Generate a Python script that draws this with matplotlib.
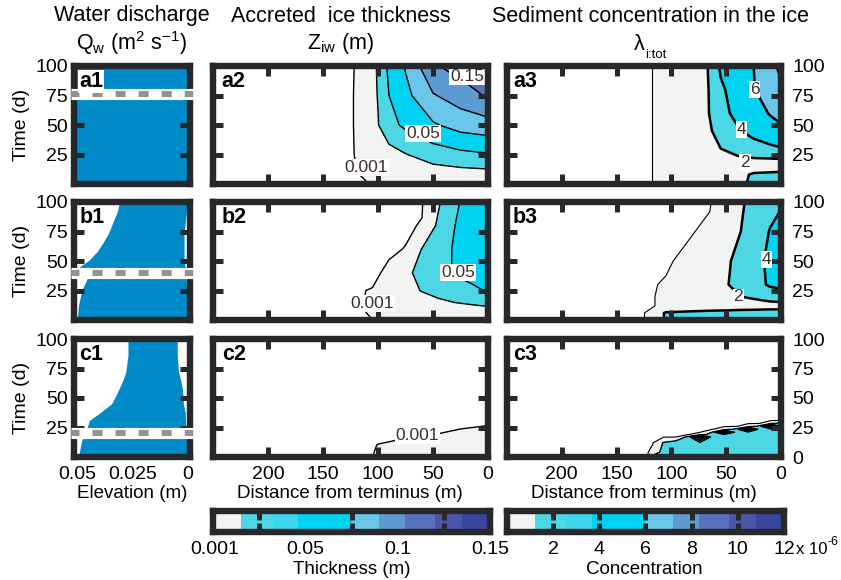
import numpy as np
import matplotlib
matplotlib.use("Agg")
import matplotlib.pyplot as plt
from matplotlib.colors import ListedColormap

# ---------------- data ----------------
# Column 1: extent of water discharge (elevation, m) through time (d)
T_A1 = [0, 100]
LEFT_A1 = [0.05, 0.05]
RIGHT_A1 = [0.0, 0.0]

T_B1 = [0, 12, 25, 33, 38, 42, 45, 51, 58, 65, 73, 82, 91, 100]
LEFT_B1 = [0.05, 0.0495, 0.048, 0.046, 0.045, 0.0495, 0.049, 0.0445, 0.041, 0.0385, 0.036, 0.034, 0.032, 0.0307]
RIGHT_B1 = [0.0, 0.0, 0.0, 0.0005, 0.001, 0.001, 0.001, 0.0015, 0.0015, 0.0015, 0.0015, 0.001, 0.0005, 0.0]

T_C1 = [0, 14, 18, 22, 31, 37, 45, 52, 58, 65, 72, 86, 100]
LEFT_C1 = [0.0495, 0.048, 0.047, 0.046, 0.0445, 0.04, 0.0345, 0.0325, 0.031, 0.0293, 0.028, 0.027, 0.027]
RIGHT_C1 = [0.0, 0.0, 0.0, 0.0005, 0.0009, 0.0009, 0.0018, 0.002, 0.0023, 0.003, 0.004, 0.0046, 0.0046]

BAND_TIMES = [76, 40, 20]          # dashed marker in a1, b1, c1

# Column 2: accreted ice thickness Z_iw (m), grid of distance (m) x time (d)
D_A2 = [0, 25, 50, 75, 90, 100, 110, 120, 130, 250]
T_A2 = [0, 10, 25, 50, 75, 100]
Z_A2 = [
    [0.004, 0.004, 0.003, 0.002, 0.0015, 0.0012, 0.0008, 0.0005, 0.0, 0.0],
    [0.020, 0.018, 0.015, 0.010, 0.006, 0.004, 0.002, 0.0009, 0.0, 0.0],
    [0.048, 0.044, 0.037, 0.024, 0.016, 0.012, 0.006, 0.0012, 0.0, 0.0],
    [0.090, 0.085, 0.072, 0.055, 0.042, 0.024, 0.012, 0.0013, 0.0, 0.0],
    [0.128, 0.112, 0.098, 0.068, 0.050, 0.026, 0.013, 0.0013, 0.0, 0.0],
    [0.165, 0.135, 0.122, 0.077, 0.056, 0.027, 0.014, 0.0012, 0.0, 0.0],
]

D_B2 = [0, 15, 30, 45, 60, 75, 90, 105, 120, 250]
T_B2 = [0, 10, 25, 40, 60, 80, 100]
Z_B2 = [
    [0.004, 0.004, 0.004, 0.003, 0.003, 0.002, 0.0015, 0.001, 0.0005, 0.0],
    [0.022, 0.020, 0.018, 0.015, 0.012, 0.008, 0.004, 0.0016, 0.0006, 0.0],
    [0.052, 0.045, 0.040, 0.033, 0.026, 0.018, 0.008, 0.0012, 0.0007, 0.0],
    [0.062, 0.058, 0.052, 0.042, 0.032, 0.020, 0.002, 0.0, 0.0, 0.0],
    [0.066, 0.062, 0.053, 0.038, 0.026, 0.0012, 0.0002, 0.0, 0.0, 0.0],
    [0.068, 0.062, 0.050, 0.030, 0.0015, 0.0, 0.0, 0.0, 0.0, 0.0],
    [0.070, 0.060, 0.046, 0.022, 0.0, 0.0, 0.0, 0.0, 0.0, 0.0],
]

D_C2 = [0, 25, 50, 75, 100, 110, 250]
T_C2 = [0, 10, 20, 30, 100]
Z_C2 = [
    [0.004, 0.004, 0.003, 0.002, 0.0015, 0.0005, 0.0],
    [0.003, 0.003, 0.0025, 0.002, 0.0011, 0.0003, 0.0],
    [0.002, 0.0016, 0.0008, 0.0003, 0.0, 0.0, 0.0],
    [0.0005, 0.0, 0.0, 0.0, 0.0, 0.0, 0.0],
    [0.0, 0.0, 0.0, 0.0, 0.0, 0.0, 0.0],
]

# Column 3: sediment concentration (x 1e-6), grid of distance (m) x time (d)
D_A3 = [0, 10, 25, 40, 55, 70, 90, 110, 125, 250]
T_A3 = [0, 8, 15, 22, 30, 45, 60, 80, 100]
C_A3 = [
    [2.6, 2.5, 2.3, 1.6, 0.8, 0.4, 0.3, 0.1, 0.0, 0.0],
    [2.4, 2.3, 2.2, 1.5, 0.8, 0.4, 0.3, 0.1, 0.0, 0.0],
    [1.2, 1.2, 1.1, 1.0, 0.8, 0.5, 0.3, 0.1, 0.0, 0.0],
    [2.1, 2.05, 2.0, 1.8, 1.5, 0.8, 0.4, 0.1, 0.0, 0.0],
    [3.9, 3.6, 3.1, 2.6, 2.0, 1.0, 0.5, 0.1, 0.0, 0.0],
    [5.6, 5.3, 4.7, 3.8, 2.8, 1.3, 0.5, 0.1, 0.0, 0.0],
    [6.6, 6.1, 5.3, 4.4, 3.5, 1.4, 0.5, 0.1, 0.0, 0.0],
    [7.6, 7.0, 5.9, 4.8, 3.7, 1.4, 0.5, 0.1, 0.0, 0.0],
    [8.5, 7.3, 6.0, 5.0, 4.3, 1.42, 0.5, 0.1, 0.0, 0.0],
]

D_B3 = [0, 10, 20, 35, 50, 65, 85, 105, 125, 250]
T_B3 = [0, 6, 12, 20, 30, 50, 75, 100]
C_B3 = [
    [2.6, 2.6, 2.6, 2.6, 2.5, 2.5, 2.4, 2.2, 0.0, 0.0],
    [2.6, 2.6, 2.6, 2.6, 2.5, 2.5, 2.4, 2.2, 0.0, 0.0],
    [1.4, 1.4, 1.3, 1.2, 1.1, 0.9, 0.5, 0.1, 0.0, 0.0],
    [2.9, 2.7, 2.4, 2.05, 1.6, 1.1, 0.5, 0.1, 0.0, 0.0],
    [4.6, 4.3, 3.5, 2.6, 1.9, 1.2, 0.6, 0.08, 0.0, 0.0],
    [5.0, 4.5, 3.6, 2.5, 1.8, 1.2, 0.15, 0.0, 0.0, 0.0],
    [4.6, 4.1, 3.2, 2.1, 1.2, 0.15, 0.0, 0.0, 0.0, 0.0],
    [3.8, 3.3, 2.7, 1.9, 0.6, 0.0, 0.0, 0.0, 0.0, 0.0],
]

D_C3 = [0, 9, 20, 30, 41, 52, 63, 74, 85, 96, 107, 117, 122, 250]
T_C3 = [0, 4, 12, 17, 19, 21, 23.5, 26, 28.5, 31, 100]
C_C3 = [
    [3, 3, 3, 3, 3, 3, 3, 3, 3, 3, 3, 3, 0, 0],
    [3, 3, 3, 3, 3, 3, 3, 3, 3, 3, 3, 0.3, 0, 0],
    [3, 3, 3, 3, 3, 3, 3, 3.5, 3, 3, 2.2, 0, 0, 0],
    [3, 3, 3, 3, 3, 3.5, 3, 11, 2.5, 0, 0, 0, 0, 0],
    [3, 3, 3, 3.5, 3, 3.5, 3, 1, 0, 0, 0, 0, 0, 0],
    [3, 3, 3, 3.5, 3, 11, 2, 0, 0, 0, 0, 0, 0, 0],
    [3, 3.5, 3, 11, 2.5, 0.5, 0, 0, 0, 0, 0, 0, 0, 0],
    [3, 11, 2.5, 0.5, 0, 0, 0, 0, 0, 0, 0, 0, 0, 0],
    [2.5, 1.5, 0, 0, 0, 0, 0, 0, 0, 0, 0, 0, 0, 0],
    [0, 0, 0, 0, 0, 0, 0, 0, 0, 0, 0, 0, 0, 0],
    [0, 0, 0, 0, 0, 0, 0, 0, 0, 0, 0, 0, 0, 0],
]

# contour levels / colour scales
THICK_LEVELS = [0.001, 0.025, 0.05, 0.075, 0.1, 0.125, 0.15, 1.0]
CONC_LEVELS = [0.05, 2, 4, 6, 8, 10, 12, 100]
CONC_THIN = [0.05]
CONC_THICK = [2, 4, 6, 8, 10]
THICK_BOUNDS = [0, 0.015, 0.0325, 0.046, 0.075, 0.09, 0.104, 0.12, 0.135, 0.15]
CONC_BOUNDS = [0, 1.2, 2.6, 3.7, 6.0, 7.2, 8.3, 9.6, 10.8, 12]
THICK_CB_TICKS = [0.001, 0.05, 0.1, 0.15]
THICK_CB_LABELS = ["0.001", "0.05", "0.1", "0.15"]
THICK_CB_MARKS = [0.025, 0.05, 0.075, 0.1, 0.125]
CONC_CB_TICKS = [2, 4, 6, 8, 10, 12]
DIST_TICKS = [200, 150, 100, 50, 0]
ELEV_TICKS = [0.05, 0.025, 0]
ELEV_LABELS = ["0.05", "0.025", "0"]

LBL_A2 = [("0.001", 111, 14), ("0.05", 59, 43), ("0.15", 19, 91)]
LBL_B2 = [("0.001", 105, 14), ("0.05", 27, 40)]
LBL_C2 = [("0.001", 64, 18.5)]
LBL_A3 = [("6", 24, 80), ("4", 36, 46), ("2", 33, 18)]
LBL_B3 = [("4", 13, 51), ("2", 39, 19.5)]
LBL_C3 = []

# ---------------- style ----------------
PALETTE = ["#f2f3f3", "#4dd7e5", "#3dd5ea", "#00d3f2", "#6ac7ea",
           "#5e9bd3", "#5a70bd", "#4b56ab", "#3846a0"]
THICK_FILL = [PALETTE[0], PALETTE[1], PALETTE[3], PALETTE[4], PALETTE[5], PALETTE[6], PALETTE[8]]
CONC_FILL = [PALETTE[0], PALETTE[1], PALETTE[3], PALETTE[4], PALETTE[5], PALETTE[7], PALETTE[8]]
BLUE = "#008bc8"
FRAME = "#26282c"
LBLCOL = "#3a2e2e"

plt.rcParams["font.family"] = ["Liberation Sans", "DejaVu Sans"]
plt.rcParams["mathtext.default"] = "regular"
plt.rcParams["lines.scale_dashes"] = False

W, H = 841, 580
fig = plt.figure(figsize=(W / 100, H / 100), dpi=100)


def px_axes(x0, x1, y0, y1):
    return fig.add_axes([x0 / W, 1 - y1 / H, (x1 - x0) / W, (y1 - y0) / H])


def frame(ax):
    ax.set_axisbelow(False)
    for s in ax.spines.values():
        s.set_linewidth(4.6)
        s.set_color(FRAME)
        s.set_zorder(3.5)
    ax.tick_params(which="both", direction="in", length=7.5, width=3.6,
                   color=FRAME, top=True, right=True, labelsize=14)


COLS = [(74, 190), (213, 488), (507, 781)]
ROWS = [(66, 184), (202, 320), (339, 457)]
ROWNAMES = ["a", "b", "c"]

fills = [(T_A1, LEFT_A1, RIGHT_A1), (T_B1, LEFT_B1, RIGHT_B1), (T_C1, LEFT_C1, RIGHT_C1)]
thick = [(D_A2, T_A2, Z_A2, LBL_A2), (D_B2, T_B2, Z_B2, LBL_B2), (D_C2, T_C2, Z_C2, LBL_C2)]
conc = [(D_A3, T_A3, C_A3, LBL_A3), (D_B3, T_B3, C_B3, LBL_B3), (D_C3, T_C3, C_C3, LBL_C3)]


def panel_letter(ax, s, xoff):
    ax.text(xoff, 0.955, s, transform=ax.transAxes, ha="left", va="top",
            fontsize=15.5, fontweight="bold", zorder=7,
            bbox=dict(facecolor="white", edgecolor="none", pad=0.8))


def contour_labels(ax, labels):
    for s, d, t in labels:
        ax.text(d, t, s, ha="center", va="center", fontsize=12.5, color=LBLCOL,
                zorder=3, bbox=dict(facecolor="white", edgecolor="none", pad=0.6))


for r in range(3):
    y0, y1 = ROWS[r]
    # ---- column 1 ----
    ax = px_axes(COLS[0][0], COLS[0][1], y0, y1)
    t, lft, rgt = fills[r]
    ax.fill_betweenx(t, lft, rgt, color=BLUE, lw=0, zorder=1)
    ax.set_xlim(0.0515, -0.0012)
    ax.set_ylim(0, 100)
    frame(ax)
    ax.set_yticks([25, 50, 75, 100])
    ax.tick_params(axis="y", pad=4.5)
    ax.set_xticks(ELEV_TICKS)
    ax.tick_params(axis="x", length=0, pad=6.5)
    if r == 2:
        ax.set_xticklabels(ELEV_LABELS)
    else:
        ax.set_xticklabels([])
    tb = BAND_TIMES[r]
    ax.axhline(tb, xmin=-0.03, xmax=1.03, color="white", lw=8.0,
               solid_capstyle="butt", clip_on=False, zorder=5)
    ax.axhline(tb, xmin=-0.03, xmax=1.03, color="#929292", lw=4.4,
               linestyle=(1.1, (7.2, 9.4)), dash_capstyle="butt",
               clip_on=False, zorder=6)
    panel_letter(ax, ROWNAMES[r] + "1", 0.045)

    # ---- column 2 ----
    ax = px_axes(COLS[1][0], COLS[1][1], y0, y1)
    D, T, Z, L = thick[r]
    ax.contourf(D, T, Z, levels=THICK_LEVELS, colors=THICK_FILL, zorder=1)
    ax.contour(D, T, Z, levels=THICK_LEVELS[:-1], colors="k", linewidths=1.0, zorder=2)
    contour_labels(ax, L)
    ax.set_xlim(250, 0)
    ax.set_ylim(0, 100)
    frame(ax)
    ax.set_xticks(DIST_TICKS)
    ax.set_yticks([25, 50, 75])
    ax.tick_params(axis="y", labelleft=False)
    ax.tick_params(axis="x", pad=6.5, labelbottom=(r == 2))
    panel_letter(ax, ROWNAMES[r] + "2", 0.032)

    # ---- column 3 ----
    ax = px_axes(COLS[2][0], COLS[2][1], y0, y1)
    D, T, C, L = conc[r]
    ax.contourf(D, T, C, levels=CONC_LEVELS, colors=CONC_FILL, zorder=1)
    ax.contour(D, T, C, levels=CONC_THIN, colors="k", linewidths=0.8, zorder=2)
    ax.contour(D, T, C, levels=CONC_THICK, colors="k",
               linewidths=(1.8 if r < 2 else 1.0), zorder=2)
    contour_labels(ax, L)
    ax.set_xlim(250, 0)
    ax.set_ylim(0, 100)
    frame(ax)
    ax.set_xticks(DIST_TICKS)
    ax.set_yticks([0, 25, 50, 75, 100] if r == 2 else [25, 50, 75, 100])
    ax.tick_params(axis="y", labelleft=False, labelright=True, pad=8)
    ax.tick_params(axis="x", pad=6.5, labelbottom=(r == 2))
    panel_letter(ax, ROWNAMES[r] + "3", 0.022)

# ---- colour bars ----
cmap9 = ListedColormap(PALETTE)
cbT = px_axes(213, 490, 511, 532)
cbT.pcolormesh(THICK_BOUNDS, [0, 1], [np.arange(len(PALETTE))], cmap=cmap9,
               vmin=-0.5, vmax=len(PALETTE) - 0.5, zorder=1)
cbT.set_xlim(0, 0.15)
cbT.set_ylim(0, 1)
frame(cbT)
cbT.set_yticks([])
cbT.set_xticks(THICK_CB_TICKS)
cbT.set_xticklabels(THICK_CB_LABELS)
cbT.set_xticks(THICK_CB_MARKS, minor=True)
cbT.tick_params(axis="x", which="major", length=0, pad=6.5, top=False)
cbT.tick_params(axis="x", which="minor", length=6.5, top=True, bottom=True)

cbC = px_axes(507, 784, 511, 532)
cbC.pcolormesh(CONC_BOUNDS, [0, 1], [np.arange(len(PALETTE))], cmap=cmap9,
               vmin=-0.5, vmax=len(PALETTE) - 0.5, zorder=1)
cbC.set_xlim(0, 12)
cbC.set_ylim(0, 1)
frame(cbC)
cbC.set_yticks([])
cbC.set_xticks(CONC_CB_TICKS)
cbC.tick_params(axis="x", which="major", length=6.5, pad=6.5, top=True, bottom=True)

# ---- text ----
def ftext(x, y, s, **kw):
    kw.setdefault("ha", "center")
    kw.setdefault("va", "center")
    fig.text(x / W, 1 - y / H, s, **kw)

ftext(132, 16, "Water discharge", fontsize=15.5)
ftext(341, 16, "Accreted  ice thickness", fontsize=15.5)
ftext(650, 16, "Sediment concentration in the ice", fontsize=15.5)
ftext(132, 43, "Q$_{w}$ (m$^{2}$ s$^{-1}$)", fontsize=15.5)
ftext(340, 43, "Z$_{iw}$ (m)", fontsize=15.5)
ftext(634, 45, "λ", fontsize=15.5, ha="left")
ftext(645, 55, "i:tot", fontsize=9.5, ha="left")

for (y0, y1) in ROWS:
    ftext(22, (y0 + y1) / 2, "Time (d)", fontsize=14, rotation=90)

ftext(132, 494, "Elevation (m)", fontsize=13.5)
ftext(350, 494, "Distance from terminus (m)", fontsize=13.5)
ftext(644, 494, "Distance from terminus (m)", fontsize=13.5)
ftext(352, 569, "Thickness (m)", fontsize=13.5)
ftext(644, 569, "Concentration", fontsize=13.5)
ftext(796, 550, "x 10", fontsize=12, ha="left")
ftext(828, 542, "-6", fontsize=9, ha="left")

fig.savefig("out.png", dpi=100)
